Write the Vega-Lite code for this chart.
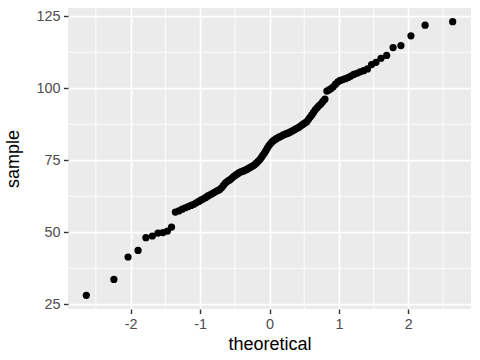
{
  "$schema": "https://vega.github.io/schema/vega-lite/v6.json",
  "width": 403,
  "height": 301,
  "autosize": "none",
  "padding": {"left": 68, "top": 8, "right": 9, "bottom": 51},
  "background": "white",
  "config": {
    "font": "Liberation Sans",
    "view": {"fill": "#EBEBEB", "stroke": null},
    "axis": {
      "domain": false,
      "grid": true,
      "gridColor": "#FFFFFF",
      "gridWidth": 1.75,
      "tickColor": "#333333",
      "tickSize": 4.5,
      "tickWidth": 1.4,
      "labelColor": "#4D4D4D",
      "labelFontSize": 14.4,
      "labelPadding": 3.6,
      "titleColor": "#000000",
      "titleFontSize": 18,
      "titleFontWeight": "normal"
    }
  },
  "datasets": {
    "qq": [
      {"theoretical": -2.638, "sample": 28.1},
      {"theoretical": -2.241, "sample": 33.6},
      {"theoretical": -2.037, "sample": 41.4},
      {"theoretical": -1.893, "sample": 43.7},
      {"theoretical": -1.780, "sample": 48.1},
      {"theoretical": -1.687, "sample": 48.7},
      {"theoretical": -1.606, "sample": 49.7},
      {"theoretical": -1.534, "sample": 49.9},
      {"theoretical": -1.470, "sample": 50.4},
      {"theoretical": -1.411, "sample": 51.8},
      {"theoretical": -1.356, "sample": 57.0},
      {"theoretical": -1.306, "sample": 57.4},
      {"theoretical": -1.258, "sample": 58.0},
      {"theoretical": -1.213, "sample": 58.5},
      {"theoretical": -1.171, "sample": 58.9},
      {"theoretical": -1.131, "sample": 59.3},
      {"theoretical": -1.092, "sample": 59.7},
      {"theoretical": -1.055, "sample": 60.2},
      {"theoretical": -1.019, "sample": 60.7},
      {"theoretical": -0.984, "sample": 61.2},
      {"theoretical": -0.951, "sample": 61.6},
      {"theoretical": -0.918, "sample": 62.1},
      {"theoretical": -0.887, "sample": 62.6},
      {"theoretical": -0.856, "sample": 63.0},
      {"theoretical": -0.826, "sample": 63.4},
      {"theoretical": -0.798, "sample": 63.8},
      {"theoretical": -0.769, "sample": 64.2},
      {"theoretical": -0.742, "sample": 64.5},
      {"theoretical": -0.714, "sample": 64.9},
      {"theoretical": -0.688, "sample": 65.5},
      {"theoretical": -0.662, "sample": 66.3},
      {"theoretical": -0.636, "sample": 67.1},
      {"theoretical": -0.611, "sample": 67.6},
      {"theoretical": -0.586, "sample": 68.0},
      {"theoretical": -0.561, "sample": 68.4},
      {"theoretical": -0.537, "sample": 68.9},
      {"theoretical": -0.513, "sample": 69.4},
      {"theoretical": -0.489, "sample": 69.8},
      {"theoretical": -0.466, "sample": 70.2},
      {"theoretical": -0.442, "sample": 70.6},
      {"theoretical": -0.419, "sample": 70.9},
      {"theoretical": -0.396, "sample": 71.1},
      {"theoretical": -0.374, "sample": 71.3},
      {"theoretical": -0.352, "sample": 71.5},
      {"theoretical": -0.329, "sample": 71.8},
      {"theoretical": -0.307, "sample": 72.1},
      {"theoretical": -0.285, "sample": 72.4},
      {"theoretical": -0.264, "sample": 72.7},
      {"theoretical": -0.242, "sample": 73.0},
      {"theoretical": -0.221, "sample": 73.3},
      {"theoretical": -0.199, "sample": 73.8},
      {"theoretical": -0.178, "sample": 74.3},
      {"theoretical": -0.157, "sample": 74.8},
      {"theoretical": -0.136, "sample": 75.3},
      {"theoretical": -0.115, "sample": 76.0},
      {"theoretical": -0.094, "sample": 76.8},
      {"theoretical": -0.073, "sample": 77.5},
      {"theoretical": -0.052, "sample": 78.3},
      {"theoretical": -0.031, "sample": 79.2},
      {"theoretical": -0.010, "sample": 80.0},
      {"theoretical": 0.010, "sample": 80.6},
      {"theoretical": 0.031, "sample": 81.2},
      {"theoretical": 0.052, "sample": 81.7},
      {"theoretical": 0.073, "sample": 82.1},
      {"theoretical": 0.094, "sample": 82.4},
      {"theoretical": 0.115, "sample": 82.7},
      {"theoretical": 0.136, "sample": 83.0},
      {"theoretical": 0.157, "sample": 83.2},
      {"theoretical": 0.178, "sample": 83.5},
      {"theoretical": 0.199, "sample": 83.8},
      {"theoretical": 0.221, "sample": 84.0},
      {"theoretical": 0.242, "sample": 84.2},
      {"theoretical": 0.264, "sample": 84.4},
      {"theoretical": 0.285, "sample": 84.6},
      {"theoretical": 0.307, "sample": 84.9},
      {"theoretical": 0.329, "sample": 85.2},
      {"theoretical": 0.352, "sample": 85.5},
      {"theoretical": 0.374, "sample": 85.8},
      {"theoretical": 0.396, "sample": 86.1},
      {"theoretical": 0.419, "sample": 86.4},
      {"theoretical": 0.442, "sample": 86.8},
      {"theoretical": 0.466, "sample": 87.2},
      {"theoretical": 0.489, "sample": 87.6},
      {"theoretical": 0.513, "sample": 88.0},
      {"theoretical": 0.537, "sample": 88.4},
      {"theoretical": 0.561, "sample": 89.2},
      {"theoretical": 0.586, "sample": 90.0},
      {"theoretical": 0.611, "sample": 90.8},
      {"theoretical": 0.636, "sample": 91.7},
      {"theoretical": 0.662, "sample": 92.6},
      {"theoretical": 0.688, "sample": 93.3},
      {"theoretical": 0.714, "sample": 94.0},
      {"theoretical": 0.742, "sample": 94.6},
      {"theoretical": 0.769, "sample": 95.4},
      {"theoretical": 0.798, "sample": 96.2},
      {"theoretical": 0.826, "sample": 99.0},
      {"theoretical": 0.856, "sample": 99.4},
      {"theoretical": 0.887, "sample": 99.9},
      {"theoretical": 0.918, "sample": 100.5},
      {"theoretical": 0.951, "sample": 101.4},
      {"theoretical": 0.984, "sample": 102.2},
      {"theoretical": 1.019, "sample": 102.7},
      {"theoretical": 1.055, "sample": 103.0},
      {"theoretical": 1.092, "sample": 103.3},
      {"theoretical": 1.131, "sample": 103.7},
      {"theoretical": 1.171, "sample": 104.2},
      {"theoretical": 1.213, "sample": 104.8},
      {"theoretical": 1.258, "sample": 105.2},
      {"theoretical": 1.306, "sample": 105.7},
      {"theoretical": 1.356, "sample": 106.1},
      {"theoretical": 1.411, "sample": 106.7},
      {"theoretical": 1.470, "sample": 108.2},
      {"theoretical": 1.534, "sample": 109.0},
      {"theoretical": 1.606, "sample": 110.4},
      {"theoretical": 1.687, "sample": 111.4},
      {"theoretical": 1.780, "sample": 114.1},
      {"theoretical": 1.893, "sample": 114.8},
      {"theoretical": 2.037, "sample": 118.2},
      {"theoretical": 2.241, "sample": 121.9},
      {"theoretical": 2.638, "sample": 123.1}
    ],
    "minorx": [{"v": -2.5}, {"v": -1.5}, {"v": -0.5}, {"v": 0.5}, {"v": 1.5}, {"v": 2.5}],
    "minory": [{"v": 37.5}, {"v": 62.5}, {"v": 87.5}, {"v": 112.5}]
  },
  "layer": [
    {
      "data": {"name": "minorx"},
      "mark": {"type": "rule", "color": "#FFFFFF", "strokeWidth": 0.9},
      "encoding": {
        "x": {
          "field": "v", "type": "quantitative",
          "scale": {"domain": [-2.902, 2.902], "nice": false, "zero": false},
          "axis": {"values": [-2, -1, 0, 1, 2], "title": "theoretical", "titlePadding": 5, "labelExpr": "replace(datum.label, '−', '-')"}
        }
      }
    },
    {
      "data": {"name": "minory"},
      "mark": {"type": "rule", "color": "#FFFFFF", "strokeWidth": 0.9},
      "encoding": {
        "y": {
          "field": "v", "type": "quantitative",
          "scale": {"domain": [23.35, 127.85], "nice": false, "zero": false},
          "axis": {"values": [25, 50, 75, 100, 125], "title": "sample", "titlePadding": 13}
        }
      }
    },
    {
      "data": {"name": "qq"},
      "mark": {"type": "point", "filled": true, "color": "#000000", "opacity": 1, "size": 52, "shape": "circle"},
      "encoding": {
        "x": {
          "field": "theoretical", "type": "quantitative",
          "scale": {"domain": [-2.902, 2.902], "nice": false, "zero": false},
          "axis": {"values": [-2, -1, 0, 1, 2], "title": "theoretical", "titlePadding": 5, "labelExpr": "replace(datum.label, '−', '-')"}
        },
        "y": {
          "field": "sample", "type": "quantitative",
          "scale": {"domain": [23.35, 127.85], "nice": false, "zero": false},
          "axis": {"values": [25, 50, 75, 100, 125], "title": "sample", "titlePadding": 13}
        }
      }
    }
  ]
}
